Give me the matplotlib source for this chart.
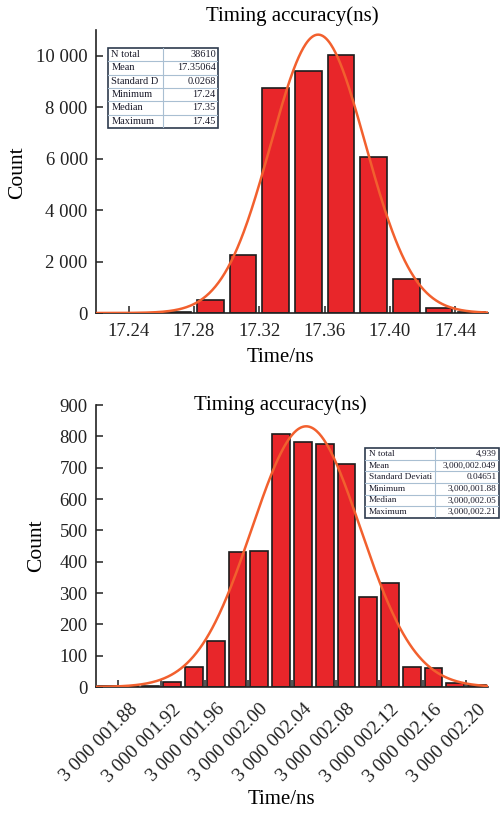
import numpy as np
import matplotlib.pyplot as plt
from matplotlib.patches import Rectangle
from matplotlib.transforms import ScaledTranslation

plt.rcParams['font.family'] = ['Liberation Serif', 'DejaVu Serif']

# upper histogram (bin centres, counts) and its normal fit
top_centers = [17.23, 17.25, 17.27, 17.29, 17.31, 17.33, 17.35, 17.37, 17.39, 17.41, 17.43, 17.45]
top_counts = [1, 3, 45, 520, 2240, 8740, 9420, 10010, 6070, 1320, 210, 30]
top_fit_amp, top_fit_mu, top_fit_sigma = 10820, 17.356, 0.029
top_xticks = [17.24, 17.28, 17.32, 17.36, 17.40, 17.44]
top_yticks = [0, 2000, 4000, 6000, 8000, 10000]
top_stat_names = ['N total', 'Mean', 'Standard D', 'Minimum', 'Median', 'Maximum']
top_stat_values = ['38610', '17.35064', '0.0268', '17.24', '17.35', '17.45']

# lower histogram
bot_centers = [3000001.87, 3000001.89, 3000001.91, 3000001.93, 3000001.95, 3000001.97,
               3000001.99, 3000002.01, 3000002.03, 3000002.05, 3000002.07, 3000002.09,
               3000002.11, 3000002.13, 3000002.15, 3000002.17, 3000002.19, 3000002.21]
bot_counts = [2, 3, 4, 15, 64, 148, 430, 434, 808, 782, 776, 712, 287, 331, 65, 60, 12, 6]
bot_fit_amp, bot_fit_mu, bot_fit_sigma = 832, 3000002.053, 0.050
bot_xticks = [3000001.88, 3000001.92, 3000001.96, 3000002.00, 3000002.04,
              3000002.08, 3000002.12, 3000002.16, 3000002.20]
bot_yticks = [0, 100, 200, 300, 400, 500, 600, 700, 800, 900]
bot_stat_names = ['N total', 'Mean', 'Standard Deviati', 'Minimum', 'Median', 'Maximum']
bot_stat_values = ['4,939', '3,000,002.049', '0.04651', '3,000,001.88', '3,000,002.05', '3,000,002.21']

RED = '#e8262a'
EDGE = '#1c1c1c'
FIT = '#f2602e'
W, H = 503, 814

fig = plt.figure(figsize=(5.03, 8.14), dpi=100)


def style(ax):
    for s in ['top', 'right']:
        ax.spines[s].set_visible(False)
    for s in ['left', 'bottom']:
        ax.spines[s].set_linewidth(1.2)
        ax.spines[s].set_color('#222222')
    ax.tick_params(direction='in', length=5, width=1.1, labelsize=13.5, colors='#222222')
    ax.tick_params(axis='y', pad=6)


def gauss(x, a, mu, s):
    return a * np.exp(-(x - mu) ** 2 / (2 * s ** 2))


def draw_table(rect, names, values, split, fs):
    tax = fig.add_axes(rect)
    tax.set_xlim(0, 1)
    tax.set_ylim(0, 1)
    tax.axis('off')
    n = len(names)
    tax.add_patch(Rectangle((0, 0), 1, 1, facecolor='white', edgecolor='#2e3b4e', lw=1.2, clip_on=False))
    for i in range(1, n):
        tax.plot([0, 1], [i / n, i / n], color='#a9bfd2', lw=0.8)
    tax.plot([split, split], [0, 1], color='#a9bfd2', lw=0.8)
    for i, (nm, val) in enumerate(zip(names, values)):
        y = 1 - (i + 0.5) / n
        tax.text(0.03, y, nm, ha='left', va='center', fontsize=fs, color='#1a1a2a')
        tax.text(0.98, y, val, ha='right', va='center', fontsize=fs, color='#1a1a2a')


# ---- top panel
ax1 = fig.add_axes([96 / W, 1 - 313 / H, 392 / W, 283 / H])
style(ax1)
ax1.bar(top_centers, top_counts, width=0.0163, color=RED, edgecolor=EDGE, linewidth=1.2, zorder=2)
xx = np.linspace(17.22, 17.46, 500)
ax1.plot(xx, gauss(xx, top_fit_amp, top_fit_mu, top_fit_sigma), color=FIT, lw=1.8, zorder=3)
ax1.set_xlim(17.22, 17.46)
ax1.set_ylim(0, 11000)
ax1.set_xticks(top_xticks)
ax1.set_xticklabels([f'{v:.2f}' for v in top_xticks])
ax1.set_yticks(top_yticks)
ax1.set_yticklabels([f'{v:,}'.replace(',', ' ') for v in top_yticks])
ax1.tick_params(axis='x', pad=7)

fig.text(292 / W, 1 - 16 / H, 'Timing accuracy(ns)', ha='center', va='center', fontsize=15)
fig.text(280 / W, 1 - 357 / H, 'Time/ns', ha='center', va='center', fontsize=15)
fig.text(17.5 / W, 1 - 173 / H, 'Count', ha='center', va='center', rotation=90, fontsize=15.5)
draw_table([108 / W, 1 - 128 / H, 110 / W, 80 / H], top_stat_names, top_stat_values, 0.5, 7.5)

# ---- bottom panel
ax2 = fig.add_axes([96 / W, 1 - 687 / H, 392 / W, 282 / H])
style(ax2)
ax2.bar(bot_centers, bot_counts, width=0.0163, color=RED, edgecolor=EDGE, linewidth=1.2, zorder=2)
xx = np.linspace(3000001.86, 3000002.22, 500)
ax2.plot(xx, gauss(xx, bot_fit_amp, bot_fit_mu, bot_fit_sigma), color=FIT, lw=1.8, zorder=3)
ax2.set_xlim(3000001.86, 3000002.22)
ax2.set_ylim(0, 900)
ax2.set_yticks(bot_yticks)
ax2.set_xticks(bot_xticks)
ax2.set_xticklabels([f'{v:,.2f}'.replace(',', ' ') for v in bot_xticks], rotation=45, ha='right', va='top',
                    fontsize=14)
ax2.tick_params(axis='x', pad=10)
for lbl in ax2.get_xticklabels():
    lbl.set_transform(lbl.get_transform() + ScaledTranslation(23 / 100, 0, fig.dpi_scale_trans))

fig.text(280 / W, 1 - 405 / H, 'Timing accuracy(ns)', ha='center', va='center', fontsize=15)
fig.text(281 / W, 1 - 800 / H, 'Time/ns', ha='center', va='center', fontsize=15)
fig.text(37 / W, 1 - 546 / H, 'Count', ha='center', va='center', rotation=90, fontsize=15.5)
draw_table([365 / W, 1 - 518 / H, 134 / W, 70 / H], bot_stat_names, bot_stat_values, 0.522, 6.7)

fig.savefig('out.png', dpi=100)
